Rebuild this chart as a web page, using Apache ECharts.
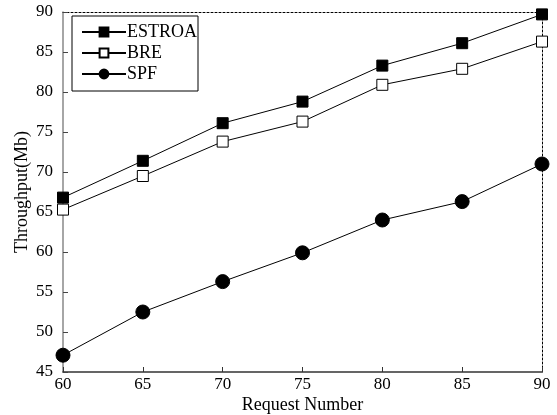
<!DOCTYPE html>
<html>
<head>
<meta charset="utf-8">
<script src="https://cdn.jsdelivr.net/npm/echarts@6/dist/echarts.min.js"></script>
<style>
  html, body { margin: 0; padding: 0; background: #fff; }
  #chart { width: 557px; height: 415px; }
</style>
</head>
<body>
<div id="chart"></div>
<script>
// 数据
const categories = ["60", "65", "70", "75", "80", "85", "90"];
const estroa = [66.8, 71.4, 76.1, 78.8, 83.3, 86.1, 89.7];
const bre = [65.3, 69.5, 73.8, 76.3, 80.9, 82.9, 86.3];
const spf = [47.1, 52.5, 56.3, 59.9, 64.0, 66.3, 71.0];

const font = "Liberation Serif";

const chart = echarts.init(document.getElementById("chart"));

const lineSeries = (name, data, symbol, size, fill) => ({
  name: name,
  type: "line",
  data: data,
  symbol: symbol,
  symbolSize: size,
  showAllSymbol: true,
  itemStyle: { color: fill, borderColor: "#000", borderWidth: 1 },
  lineStyle: { color: "#000", width: 1 },
  emphasis: { disabled: true },
  animation: false,
});

const option = {
  backgroundColor: "#fff",
  textStyle: { fontFamily: font, color: "#000" },
  grid: { left: 63, right: 15, top: 12, bottom: 43, outerBoundsMode: "none" },
  legend: {
    orient: "vertical",
    left: 72,
    top: 16,
    padding: [7, 1, 8, 9],
    itemGap: 3,
    itemWidth: 44,
    itemHeight: 11,
    borderColor: "#000",
    borderWidth: 1,
    textStyle: { fontFamily: font, fontSize: 18, color: "#000", padding: [0, 0, 0, -4] },
    data: ["ESTROA", "BRE", "SPF"],
  },
  xAxis: [
    {
      type: "category",
      data: categories,
      boundaryGap: false,
      name: "Request Number",
      nameLocation: "middle",
      nameGap: 24,
      nameMoveOverlap: false,
      nameTextStyle: { fontFamily: font, fontSize: 18, color: "#000" },
      axisLine: { lineStyle: { color: "#333", width: 1.5 } },
      axisTick: { inside: true, length: 5, lineStyle: { color: "#333" } },
      axisLabel: { fontFamily: font, fontSize: 17, color: "#000", margin: 4 },
      splitLine: { show: false },
    },
    {
      type: "category",
      data: categories,
      boundaryGap: false,
      position: "top",
      axisLine: { lineStyle: { color: "#000", width: 1, type: [2, 2] } },
      axisTick: { show: false },
      axisLabel: { show: false },
    },
  ],
  yAxis: [
    {
      type: "value",
      min: 45,
      max: 90,
      interval: 5,
      name: "Throughput(Mb)",
      nameLocation: "middle",
      nameGap: 32,
      nameMoveOverlap: false,
      nameTextStyle: { fontFamily: font, fontSize: 18, color: "#000" },
      axisLine: { show: true, lineStyle: { color: "#888", width: 1.5 } },
      axisTick: { show: true, inside: true, length: 5, lineStyle: { color: "#444" } },
      axisLabel: { fontFamily: font, fontSize: 17, color: "#000", margin: 10 },
      splitLine: { show: false },
    },
    {
      type: "value",
      min: 45,
      max: 90,
      interval: 5,
      position: "right",
      axisLine: { show: true, lineStyle: { color: "#000", width: 1, type: [2, 2] } },
      axisTick: { show: false },
      axisLabel: { show: false },
      splitLine: { show: false },
    },
  ],
  series: [
    lineSeries("ESTROA", estroa, "rect", 11, "#000"),
    lineSeries("BRE", bre, "rect", 11, "#fff"),
    lineSeries("SPF", spf, "circle", 14, "#000"),
  ],
};

chart.setOption(option);
</script>
</body>
</html>
